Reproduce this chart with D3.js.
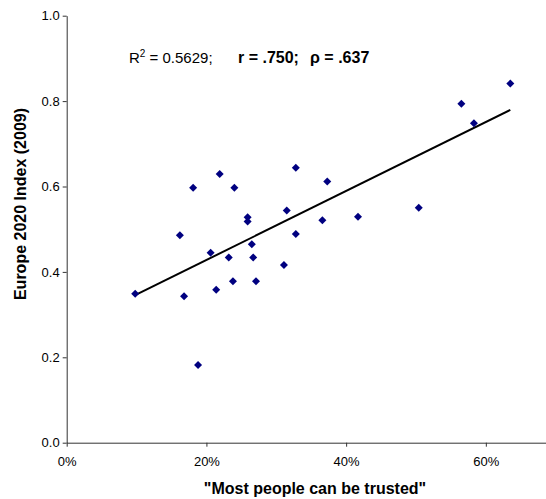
<!DOCTYPE html>
<html>
<head>
<meta charset="utf-8">
<script src="https://cdn.jsdelivr.net/npm/d3@7"></script>
<style>
	body	{ margin:0; background:#fff; }
	svg	{ display:block; font-family:"Liberation Sans", Arial, sans-serif; }
	.axis text	{ font-size:13px; fill:#000; }
	.axis path, .axis line	{ stroke:#333; }
</style>
</head>
<body>
<div id="chart"></div>
<script>
// "Most people can be trusted" share vs Europe 2020 Index (2009)
var	trust	= [0.635, 0.565, 0.583, 0.504, 0.417, 0.373, 0.366, 0.328, 0.328, 0.315, 0.259, 0.259, 0.265, 0.240,
		   0.219, 0.181, 0.162, 0.206, 0.232, 0.267, 0.311, 0.238, 0.271, 0.214, 0.168, 0.098, 0.188];
var	index	= [0.841, 0.794, 0.748, 0.550, 0.529, 0.612, 0.521, 0.644, 0.489, 0.544, 0.528, 0.518, 0.465, 0.597,
		   0.629, 0.597, 0.486, 0.445, 0.434, 0.434, 0.416, 0.378, 0.378, 0.358, 0.343, 0.349, 0.182];
var	xTicks	= [0, 0.2, 0.4, 0.6];
var	yTicks	= [0, 0.2, 0.4, 0.6, 0.8, 1.0];
var	xTitle	= '"Most people can be trusted"',
	yTitle	= "Europe 2020 Index (2009)";

var	W = 546, H = 499,
	margin	= {left:66.7, top:15.7, bottom:442.7},
	x	= d3.scaleLinear().domain([0, 0.7]).range([margin.left, 555.7]),
	y	= d3.scaleLinear().domain([0, 1]).range([margin.bottom, margin.top]);

var	points	= trust.map(function(t, i) { return {x:t, y:index[i]}; });

// least squares trend line
var	mx	= d3.mean(trust), my = d3.mean(index),
	sxy	= d3.sum(points, function(d) { return (d.x-mx)*(d.y-my); }),
	sxx	= d3.sum(points, function(d) { return (d.x-mx)*(d.x-mx); }),
	slope	= sxy/sxx, icpt = my - slope*mx,
	ext	= d3.extent(trust);

var	svg	= d3.select("#chart").append("svg").attr("width", W).attr("height", H);

svg.append("g").attr("class", "y axis").attr("transform", "translate(" + margin.left + ",0)")
	.call(d3.axisLeft(y).tickValues(yTicks).tickFormat(d3.format(".1f")).tickSize(4).tickSizeOuter(0))
	.call(function(g) { g.selectAll(".tick text").attr("x", -7); });

svg.append("g").attr("class", "x axis").attr("transform", "translate(0," + margin.bottom + ")")
	.call(d3.axisBottom(x).tickValues(xTicks).tickFormat(d3.format(".0%")).tickSize(4).tickSizeOuter(0))
	.call(function(g) { g.selectAll(".tick text").attr("y", 14); });

svg.append("line")
	.attr("x1", x(ext[0])).attr("y1", y(icpt + slope*ext[0]))
	.attr("x2", x(ext[1])).attr("y2", y(icpt + slope*ext[1]))
	.attr("stroke", "#000").attr("stroke-width", 2);

svg.append("g").selectAll("path").data(points).enter().append("path")
	.attr("d", "M0,-4L4,0L0,4L-4,0Z")
	.attr("transform", function(d) { return "translate(" + x(d.x) + "," + y(d.y) + ")"; })
	.attr("fill", "#000080");

svg.append("text").attr("x", 315).attr("y", 494)
	.attr("text-anchor", "middle").style("font-size", "16px").style("font-weight", "bold")
	.text(xTitle);

svg.append("text").attr("transform", "translate(26,204) rotate(-90)")
	.attr("text-anchor", "middle").style("font-size", "16px").style("font-weight", "bold")
	.text(yTitle);

var	note	= svg.append("g").style("font-size", "15px");
var	t1	= note.append("text").attr("x", 129).attr("y", 63);
t1.append("tspan").text("R");
t1.append("tspan").attr("dy", -6).style("font-size", "10px").text("2");
t1.append("tspan").attr("dy", 6).text(" = 0.5629;");
note.append("text").attr("x", 238).attr("y", 63).style("font-weight", "bold").style("font-size", "16px").text("r = .750;");
note.append("text").attr("x", 310).attr("y", 63).style("font-weight", "bold").style("font-size", "16px").text("\u03c1 = .637");
</script>
</body>
</html>
